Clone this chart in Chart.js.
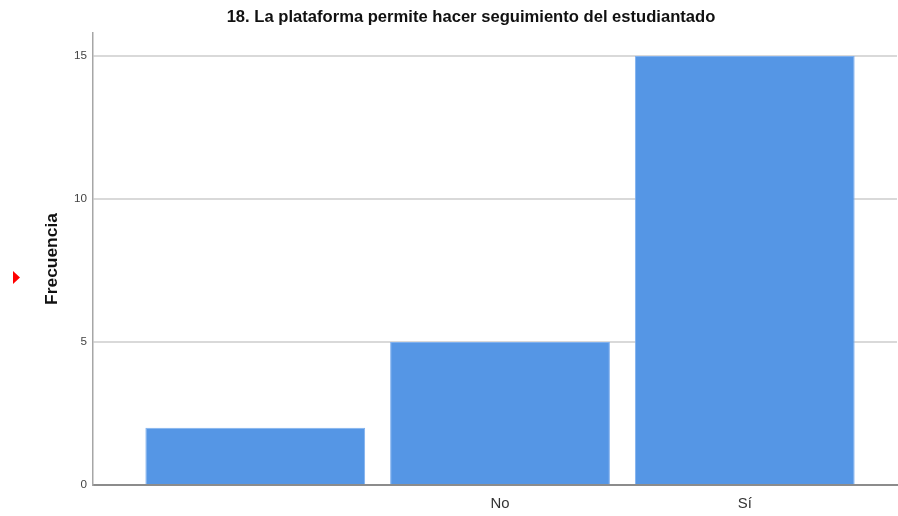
<!DOCTYPE html>
<html>
<head>
<meta charset="utf-8">
<script src="https://cdn.jsdelivr.net/npm/chart.js@4/dist/chart.umd.min.js"></script>
<style>
  html, body { margin: 0; padding: 0; background: #ffffff; }
  #wrap { width: 898px; height: 516px; position: relative; }
</style>
</head>
<body>
<div id="wrap"><canvas id="c" width="898" height="516"></canvas></div>
<script>
const categories = ['', 'No', 'Sí'];
const frecuencia = [2, 5, 15];
const yTicks = [0, 5, 10, 15];
const titleText = '18. La plataforma permite hacer seguimiento del estudiantado';
const yTitle = 'Frecuencia';

const FAMILY = '"Liberation Sans Narrow", "Arial Narrow", "Liberation Sans", Arial, sans-serif';
const mctx = document.createElement('canvas').getContext('2d');
function fitSize(text, weight, target) {
  mctx.font = weight + ' 100px ' + FAMILY;
  const w = mctx.measureText(text).width;
  return Math.round(100 * target / w * 10) / 10;
}
const titleSize = fitSize(titleText, 'bold', 490);
const yTitleSize = fitSize(yTitle, 'bold', 92);
const xTickSize = fitSize('No', 'normal', 19);
const yTickSize = fitSize('15', 'normal', 13);

const points = categories.map((c, i) => ({ x: i, y: frecuencia[i] }));

const decor = {
  id: 'decor',
  afterDraw(chart) {
    const ctx = chart.ctx;
    ctx.save();
    ctx.fillStyle = '#111111';
    ctx.font = 'bold ' + titleSize + 'px ' + FAMILY;
    ctx.textAlign = 'center';
    ctx.textBaseline = 'middle';
    ctx.fillText(titleText, 471, 17);
    ctx.fillStyle = '#ff0000';
    ctx.beginPath();
    ctx.moveTo(13, 271);
    ctx.lineTo(20, 277.5);
    ctx.lineTo(13, 284);
    ctx.closePath();
    ctx.fill();
    ctx.restore();
  }
};

new Chart(document.getElementById('c'), {
  type: 'bar',
  data: {
    datasets: [{
      data: points,
      backgroundColor: '#5596e5',
      borderColor: '#7fb0ee',
      borderWidth: { left: 1, right: 1, top: 1, bottom: 0 },
      barPercentage: 0.898,
      categoryPercentage: 1.0
    }]
  },
  options: {
    responsive: false,
    animation: false,
    layout: { padding: { left: 0, right: 1, top: 33, bottom: 0 } },
    plugins: {
      legend: { display: false },
      tooltip: { enabled: false },
      title: { display: false }
    },
    scales: {
      x: {
        type: 'linear',
        offset: false,
        min: -0.663,
        max: 2.622,
        afterBuildTicks(scale) {
          scale.ticks = categories.map((c, i) => ({ value: i }));
        },
        afterFit(scale) { scale.height = 31; },
        ticks: {
          callback: (v) => categories[v] ?? '',
          color: '#333333',
          font: { family: FAMILY, size: xTickSize },
          padding: 10,
          maxRotation: 0,
          autoSkip: false
        },
        grid: { display: false, drawTicks: false },
        border: { display: true, color: '#8c8c8c', width: 2 }
      },
      y: {
        min: 0,
        max: 15.8,
        afterBuildTicks(scale) {
          scale.ticks = yTicks.map(v => ({ value: v }));
        },
        afterFit(scale) { scale.width = 93; },
        ticks: {
          color: '#444444',
          font: { family: FAMILY, size: yTickSize },
          padding: 6
        },
        grid: { color: '#d9d9d9', lineWidth: 2, drawTicks: false },
        border: { display: true, color: '#a6a6a6', width: 1.5 },
        title: {
          display: true,
          text: yTitle,
          color: '#111111',
          font: { family: FAMILY, size: yTitleSize, weight: 'bold' },
          padding: { top: 42, bottom: 0 }
        }
      }
    }
  },
  plugins: [decor]
});
</script>
</body>
</html>
